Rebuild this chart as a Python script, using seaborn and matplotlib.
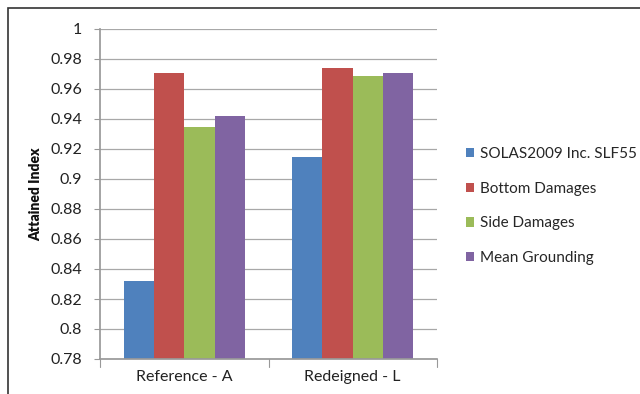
import matplotlib
matplotlib.use("Agg")
import matplotlib.pyplot as plt
import matplotlib.patches as mpatches
import seaborn as sns
import pandas as pd

categories = ["Reference - A", "Redeigned - L"]
series = ["SOLAS2009 Inc. SLF55", "Bottom Damages", "Side Damages", "Mean Grounding"]
solas = [0.832, 0.915]
bottom = [0.971, 0.974]
side = [0.935, 0.969]
grounding = [0.942, 0.971]
yticks = [0.78, 0.8, 0.82, 0.84, 0.86, 0.88, 0.9, 0.92, 0.94, 0.96, 0.98, 1]
ytick_labels = ["0.78", "0.8", "0.82", "0.84", "0.86", "0.88", "0.9", "0.92", "0.94", "0.96", "0.98", "1"]
colors = ["#4F81BD", "#C0504D", "#9BBB59", "#8064A2"]

rows = []
for name, vals in zip(series, [solas, bottom, side, grounding]):
    for cat, v in zip(categories, vals):
        rows.append({"Category": cat, "Series": name, "Value": v})
df = pd.DataFrame(rows)

sns.set_theme(style="white")
plt.rcParams["font.family"] = ["Lato", "DejaVu Sans"]

fig = plt.figure(figsize=(6.4, 3.94), dpi=100)
ax = fig.add_axes([100 / 640, 1 - 359 / 394, 337 / 640, 330 / 394])

sns.barplot(data=df, x="Category", y="Value", hue="Series", palette=colors,
            width=0.72, saturation=1, linewidth=0, ax=ax, legend=True)

ax.set_ylim(0.78, 1.0)
ax.set_yticks(yticks)
ax.set_yticklabels(ytick_labels, fontsize=11.5, color="#222222")
ax.set_xlim(-0.5, 1.5)
ax.tick_params(axis="x", labelsize=11.5, colors="#222222", length=0, pad=8)
ax.tick_params(axis="y", length=4, width=0.8, color="#999999", pad=9, left=True)
ax.set_xlabel("")
ax.set_ylabel("Attained Index", fontsize=10, fontweight="heavy", labelpad=6, color="#111111")

ax.yaxis.grid(True, color="#A8A8A8", linewidth=0.9)
ax.set_axisbelow(True)
for s in ["top", "right"]:
    ax.spines[s].set_visible(False)
ax.spines["left"].set_color("#999999")
ax.spines["bottom"].set_color("#999999")

# small category separator ticks on the x axis
for xb in [-0.5, 0.5, 1.5]:
    ax.plot([xb, xb], [0.78, 0.775], color="#999999", lw=0.8, clip_on=False)

handles, labels = ax.get_legend_handles_labels()
ax.legend(handles, labels, loc="center left", bbox_to_anchor=(452 / 640, 1 - 206 / 394),
          bbox_transform=fig.transFigure, frameon=False, fontsize=11,
          handlelength=0.55, handleheight=0.55, handletextpad=0.35, labelspacing=1.35)

fig.patches.append(mpatches.Rectangle((8 / 640, -0.05), 1.0, 1 - 8 / 394 + 0.05,
                                      transform=fig.transFigure, fill=False,
                                      edgecolor="#333333", linewidth=1.2))

fig.savefig("out.png", dpi=100)
